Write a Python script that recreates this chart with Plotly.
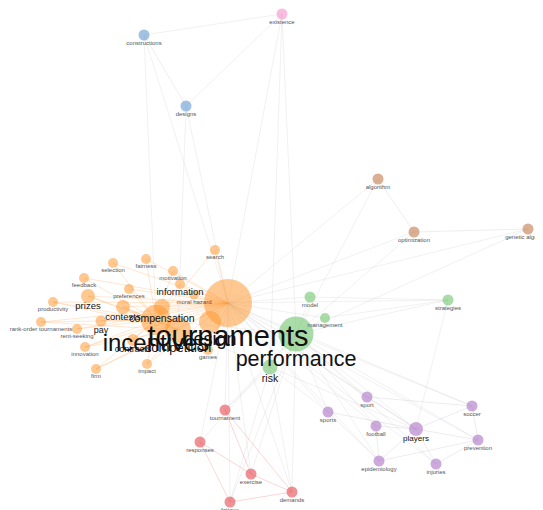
import plotly.graph_objects as go

# ---------------- data ----------------
nodes = ["tournaments", "incentives", "competition", "design", "compensation", "contests",
         "contracts", "information", "moral hazard", "prizes", "pay", "feedback", "selection",
         "fairness", "motivation", "search", "preferences", "productivity",
         "rank-order tournaments", "rent-seeking", "innovation", "firm", "impact", "games",
         "performance", "risk", "model", "management", "strategies",
         "algorithm", "optimization", "genetic algorithm",
         "constructions", "designs", "existence",
         "players", "sport", "sports", "soccer", "football", "prevention", "epidemiology", "injuries",
         "tournament", "responses", "exercise", "demands", "fatigue"]
groups = [0]*24 + [1]*5 + [2]*3 + [3]*2 + [4] + [5]*8 + [6]*5
weights = [48, 30, 26, 22, 16, 14, 12, 10, 9, 14, 11, 10, 10, 10, 10, 10, 10, 10,
           10, 10, 10, 10, 10, 10,
           35, 15, 11, 10, 11,
           11, 11, 11,
           11, 11, 11,
           14, 11, 11, 11, 11, 11, 11, 11,
           11, 11, 11, 11, 11]
label_sizes = [29, 24, 13, 18, 10.5, 9.5, 9, 9.5, 6, 9.5, 9, 6, 6, 6, 6, 6, 6, 6,
               6, 6, 6, 6, 6, 6,
               21.5, 10.5, 6, 6, 6,
               6, 6, 6,
               6, 6, 6,
               8, 6, 6, 6, 6, 6, 6, 6,
               6, 6, 6, 6, 6]

edges = [
    ("tournaments", n) for n in ["incentives", "competition", "design", "compensation", "contests",
                                 "contracts", "information", "moral hazard", "prizes", "pay", "feedback",
                                 "selection", "fairness", "motivation", "search", "preferences",
                                 "productivity", "rank-order tournaments", "rent-seeking", "innovation",
                                 "firm", "impact", "games", "performance", "risk", "model",
                                 "management", "strategies", "algorithm", "optimization",
                                 "genetic algorithm", "constructions", "designs", "existence",
                                 "players", "sport", "sports", "soccer", "football", "prevention",
                                 "epidemiology", "injuries", "tournament", "responses", "exercise",
                                 "demands", "fatigue"]
] + [
    ("incentives", n) for n in ["competition", "compensation", "contests", "contracts", "information",
                                "prizes", "pay", "feedback", "selection", "fairness", "motivation",
                                "preferences", "productivity", "rank-order tournaments", "rent-seeking",
                                "innovation", "firm", "impact", "performance", "risk", "search"]
] + [
    ("competition", n) for n in ["prizes", "contests", "firm", "innovation", "impact", "performance",
                                 "productivity", "rank-order tournaments"]
] + [
    ("performance", n) for n in ["risk", "model", "management", "strategies", "players", "sport",
                                 "sports", "soccer", "football", "prevention", "epidemiology",
                                 "injuries", "tournament", "responses", "exercise", "demands",
                                 "fatigue", "optimization", "genetic algorithm", "algorithm",
                                 "existence"]
] + [
    ("players", n) for n in ["sport", "sports", "soccer", "football", "prevention", "epidemiology",
                             "injuries", "risk", "strategies"]
] + [
    ("constructions", "existence"), ("constructions", "designs"), ("designs", "existence"),
    ("algorithm", "optimization"), ("optimization", "genetic algorithm"),
    ("sport", "soccer"), ("football", "epidemiology"), ("epidemiology", "prevention"),
    ("injuries", "prevention"), ("sports", "epidemiology"), ("soccer", "prevention"),
    ("responses", "exercise"), ("fatigue", "demands"), ("responses", "fatigue"),
    ("tournament", "exercise"), ("tournament", "demands"), ("exercise", "demands"),
    ("risk", "demands"), ("risk", "fatigue"), ("risk", "tournament"), ("risk", "sports"),
    ("constructions", "incentives"), ("designs", "competition"), ("existence", "risk"),
    ("model", "strategies"), ("management", "strategies"),
]

# ---------------- layout (graph drawing positions) ----------------
layout_xy = {
    "tournaments": (228, 303), "incentives": (156, 320), "competition": (178, 330),
    "design": (210, 322), "compensation": (162, 307), "contests": (123, 307),
    "contracts": (133, 340), "information": (180, 284), "moral hazard": (194, 295),
    "prizes": (88, 296), "pay": (101, 321), "feedback": (84, 278), "selection": (113, 263),
    "fairness": (146, 259), "motivation": (173, 271), "search": (215, 250),
    "preferences": (129, 289), "productivity": (53, 302), "rank-order tournaments": (41, 322),
    "rent-seeking": (77, 329), "innovation": (85, 347), "firm": (96, 369), "impact": (147, 364),
    "games": (208, 350),
    "performance": (296, 334), "risk": (270, 367), "model": (310, 297), "management": (325, 318),
    "strategies": (448, 300),
    "algorithm": (378, 179), "optimization": (414, 232), "genetic algorithm": (528, 229),
    "constructions": (144, 35), "designs": (186, 106), "existence": (282, 14),
    "players": (416, 429), "sport": (367, 397), "sports": (328, 412), "soccer": (472, 406),
    "football": (376, 426), "prevention": (478, 440), "epidemiology": (379, 461),
    "injuries": (436, 464),
    "tournament": (225, 410), "responses": (200, 442), "exercise": (251, 474),
    "demands": (292, 492), "fatigue": (230, 502),
}

group_colors = ["rgba(255,150,45,0.75)", "rgba(112,196,108,0.85)", "rgba(198,128,86,0.9)",
                "rgba(108,158,210,0.9)", "rgba(245,150,205,0.9)", "rgba(176,120,200,0.9)",
                "rgba(232,80,88,0.9)"]
edge_colors = ["rgba(255,160,70,0.25)", "rgba(190,190,190,0.22)", "rgba(200,200,200,0.3)",
               "rgba(200,200,200,0.3)", "rgba(200,200,200,0.3)", "rgba(200,190,210,0.3)",
               "rgba(240,140,140,0.35)"]

idx = {n: i for i, n in enumerate(nodes)}
fig = go.Figure()

buckets = {}
for a, b in edges:
    ga, gb = groups[idx[a]], groups[idx[b]]
    key = ga if ga == gb else 1
    buckets.setdefault(key, ([], []))
    xa, ya = layout_xy[a]
    xb, yb = layout_xy[b]
    buckets[key][0].extend([xa, xb, None])
    buckets[key][1].extend([ya, yb, None])
for key in [1, 2, 3, 4, 5, 6, 0]:
    if key in buckets:
        xs, ys = buckets[key]
        fig.add_trace(go.Scatter(x=xs, y=ys, mode="lines",
                                 line=dict(color=edge_colors[key], width=1),
                                 hoverinfo="skip", showlegend=False))

for g in range(len(group_colors)):
    sel = [i for i in range(len(nodes)) if groups[i] == g]
    fig.add_trace(go.Scatter(
        x=[layout_xy[nodes[i]][0] for i in sel],
        y=[layout_xy[nodes[i]][1] for i in sel],
        mode="markers",
        marker=dict(size=[weights[i] for i in sel], color=group_colors[g], line=dict(width=0)),
        text=[nodes[i] for i in sel], hoverinfo="text", showlegend=False))

lx, ly, lt, ls, lc = [], [], [], [], []
order = sorted(range(len(nodes)), key=lambda i: label_sizes[i])
for i in order:
    x, y = layout_xy[nodes[i]]
    fs = label_sizes[i]
    lx.append(x)
    ly.append(y + weights[i] / 2 + fs * 0.42)
    lt.append(nodes[i])
    ls.append(fs)
    lc.append("#111" if fs >= 8 else "#555")
fig.add_trace(go.Scatter(x=lx, y=ly, text=lt, mode="text",
                         textfont=dict(size=ls, color=lc, family="Liberation Sans, Arial"),
                         textposition="middle center", hoverinfo="skip", showlegend=False))

# the page body has an 8px margin, so the axis ranges start at 8 to keep
# data units equal to window pixels
fig.update_layout(
    width=543, height=510, margin=dict(l=0, r=0, t=0, b=0),
    paper_bgcolor="white", plot_bgcolor="white",
    xaxis=dict(range=[8, 551], visible=False, fixedrange=True),
    yaxis=dict(range=[518, 8], visible=False, fixedrange=True),
)
fig.write_html("out.html")
